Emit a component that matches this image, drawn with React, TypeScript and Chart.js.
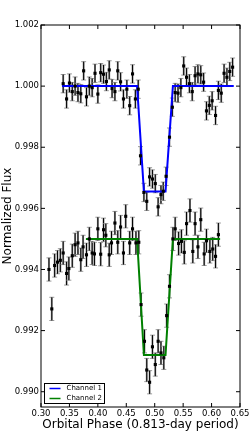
import React, { useEffect, useRef } from "react";
import { Chart, registerables } from "chart.js";

Chart.register(...registerables);

const FONT = "'DejaVu Sans', 'Liberation Sans', sans-serif";

const seriesNames = ["Channel 1", "Channel 2"];
const seriesColors = ["#0000ff", "#008000"];

const xTicks = [0.3, 0.35, 0.4, 0.45, 0.5, 0.55, 0.6, 0.65];
const yTicks = [0.99, 0.992, 0.994, 0.996, 0.998, 1.0, 1.002];

const phase1 = [
  0.339, 0.345, 0.350, 0.355, 0.360, 0.365, 0.370, 0.375, 0.380, 0.385, 0.390,
  0.395, 0.400, 0.405, 0.410, 0.415, 0.420, 0.425, 0.430, 0.435, 0.440, 0.445,
  0.451, 0.456, 0.461, 0.466, 0.471, 0.475, 0.481, 0.486, 0.491, 0.496, 0.501,
  0.506, 0.511, 0.515, 0.520, 0.526, 0.531, 0.536, 0.541, 0.546,
  0.551, 0.556, 0.561, 0.566, 0.571, 0.576, 0.581, 0.586, 0.591, 0.596, 0.601,
  0.607, 0.612, 0.617, 0.622, 0.627, 0.632, 0.637,
];
const flux1 = [
  1.00008, 0.99958, 1.0001, 0.99982, 1.0, 0.99979, 0.99975, 1.0005, 0.99965, 1.0, 0.99995,
  1.00042, 0.99974, 1.00044, 1.00039, 1.00015, 1.00053, 0.99992, 0.99982, 1.0005, 1.00014, 0.99958,
  0.9999, 0.99936, 1.0004, 0.99958, 0.9999, 0.99772, 0.99652, 0.99623, 0.99703, 0.99696, 0.99681,
  0.99605, 0.99645, 0.99656, 0.99705, 0.99833, 0.99931, 0.99979, 0.99977, 0.99995,
  1.00066, 1.00029, 1.00008, 0.99982, 1.00034, 1.0004, 1.00037, 1.00013, 0.99919, 0.99937, 0.99952,
  0.99904, 0.99986, 0.99977, 1.00042, 1.00029, 1.00048, 1.00062,
];

const phase2 = [
  0.314, 0.319, 0.324, 0.329, 0.334, 0.339, 0.345, 0.349, 0.355, 0.360, 0.365,
  0.370, 0.374, 0.380, 0.385, 0.390, 0.394, 0.400, 0.405, 0.410, 0.414, 0.420,
  0.424, 0.430, 0.435, 0.440, 0.445, 0.449,
  0.456, 0.461, 0.467, 0.472, 0.476, 0.482, 0.486, 0.491, 0.496, 0.501, 0.506,
  0.511, 0.516, 0.521, 0.526, 0.532, 0.536, 0.542,
  0.547, 0.552, 0.556, 0.562, 0.567, 0.571, 0.576, 0.581, 0.587, 0.591, 0.597,
  0.602, 0.607, 0.612,
];
const flux2 = [
  0.994, 0.99271, 0.99413, 0.99424, 0.9943, 0.99454, 0.99387, 0.99403, 0.99445, 0.99481, 0.99487,
  0.99432, 0.99474, 0.99448, 0.995, 0.99454, 0.99451, 0.99533, 0.9945, 0.9953, 0.99512, 0.99448,
  0.99487, 0.99552, 0.99489, 0.99539, 0.99454, 0.99574,
  0.99487, 0.99533, 0.99487, 0.99489, 0.99285, 0.99165, 0.99071, 0.99031, 0.99147, 0.99089, 0.99165,
  0.99127, 0.99111, 0.99249, 0.99345, 0.995, 0.99533, 0.99485,
  0.99492, 0.99456, 0.9955, 0.99593, 0.99459, 0.9955, 0.99474, 0.99563, 0.99451, 0.99494, 0.99459,
  0.99467, 0.99443, 0.99514,
];

const err1 = 0.0003;
const err2 = 0.00038;

const model1Phase = [0.337, 0.469, 0.481, 0.519, 0.532, 0.639];
const model1Flux = [1.0, 1.0, 0.99655, 0.99655, 1.0, 1.0];
const model2Phase = [0.379, 0.469, 0.481, 0.519, 0.532, 0.615];
const model2Flux = [0.995, 0.995, 0.9912, 0.9912, 0.995, 0.995];

const toXY = (xs: number[], ys: number[]) => xs.map((x, i) => ({ x, y: ys[i] }));

const errorBarPlugin = {
  id: "errorBars",
  beforeDatasetsDraw(chart: any) {
    const { ctx, scales } = chart;
    const xs = scales.x;
    const ys = scales.y;
    const draw = (ph: number[], fl: number[], e: number) => {
      for (let i = 0; i < ph.length; i++) {
        const px = xs.getPixelForValue(ph[i]);
        const top = ys.getPixelForValue(fl[i] + e);
        const bot = ys.getPixelForValue(fl[i] - e);
        ctx.strokeStyle = "#9a9a9a";
        ctx.lineWidth = 2;
        ctx.beginPath();
        ctx.moveTo(px, top);
        ctx.lineTo(px, bot);
        ctx.stroke();
        ctx.lineWidth = 1;
        ctx.beginPath();
        ctx.moveTo(px - 2.5, top);
        ctx.lineTo(px + 2.5, top);
        ctx.moveTo(px - 2.5, bot);
        ctx.lineTo(px + 2.5, bot);
        ctx.stroke();
        ctx.strokeStyle = "#000";
        ctx.lineWidth = 1;
        ctx.beginPath();
        ctx.moveTo(px, top);
        ctx.lineTo(px, bot);
        ctx.stroke();
      }
    };
    ctx.save();
    draw(phase1, flux1, err1);
    draw(phase2, flux2, err2);
    ctx.restore();
  },
};

const framePlugin = {
  id: "frame",
  afterDraw(chart: any) {
    const { ctx, chartArea: a, scales } = chart;
    ctx.save();
    ctx.strokeStyle = "#000";
    ctx.lineWidth = 1;
    ctx.strokeRect(a.left, a.top, a.right - a.left, a.bottom - a.top);
    const tl = 4;
    ctx.beginPath();
    xTicks.forEach((v) => {
      const px = scales.x.getPixelForValue(v);
      ctx.moveTo(px, a.bottom);
      ctx.lineTo(px, a.bottom - tl);
      ctx.moveTo(px, a.top);
      ctx.lineTo(px, a.top + tl);
    });
    yTicks.forEach((v) => {
      const py = scales.y.getPixelForValue(v);
      ctx.moveTo(a.left, py);
      ctx.lineTo(a.left + tl, py);
      ctx.moveTo(a.right, py);
      ctx.lineTo(a.right - tl, py);
    });
    ctx.stroke();

    // legend (lower left, inside the axes)
    const bx = a.left + 3.5;
    const by = a.bottom - 23.5;
    const bw = 60;
    const bh = 20;
    ctx.fillStyle = "#fff";
    ctx.fillRect(bx, by, bw, bh);
    ctx.strokeStyle = "#000";
    ctx.lineWidth = 1;
    ctx.strokeRect(bx, by, bw, bh);
    ctx.font = `7px ${FONT}`;
    ctx.textBaseline = "middle";
    ctx.textAlign = "left";
    seriesNames.forEach((name, i) => {
      const cy = by + 5 + i * 10;
      ctx.strokeStyle = seriesColors[i];
      ctx.lineWidth = 1.5;
      ctx.beginPath();
      ctx.moveTo(bx + 5, cy);
      ctx.lineTo(bx + 16, cy);
      ctx.stroke();
      ctx.fillStyle = "#000";
      ctx.fillText(name, bx + 22, cy);
    });
    ctx.restore();
  },
};

export default function App() {
  const canvasRef = useRef<HTMLCanvasElement | null>(null);

  useEffect(() => {
    const canvas = canvasRef.current;
    if (!canvas) return;
    const chart = new Chart(canvas, {
      type: "scatter",
      data: {
        datasets: [
          {
            label: seriesNames[0] + " data",
            data: toXY(phase1, flux1),
            pointStyle: "rect",
            pointRadius: 2.2,
            backgroundColor: "#000",
            borderColor: "#000",
            borderWidth: 0,
            showLine: false,
            order: 0,
          },
          {
            label: seriesNames[1] + " data",
            data: toXY(phase2, flux2),
            pointStyle: "rect",
            pointRadius: 2.2,
            backgroundColor: "#000",
            borderColor: "#000",
            borderWidth: 0,
            showLine: false,
            order: 0,
          },
          {
            label: seriesNames[0],
            data: toXY(model1Phase, model1Flux),
            showLine: true,
            borderColor: seriesColors[0],
            borderWidth: 2,
            pointRadius: 0,
            tension: 0,
            order: 1,
          },
          {
            label: seriesNames[1],
            data: toXY(model2Phase, model2Flux),
            showLine: true,
            borderColor: seriesColors[1],
            borderWidth: 2,
            pointRadius: 0,
            tension: 0,
            order: 1,
          },
        ],
      },
      options: {
        responsive: false,
        animation: false,
        devicePixelRatio: 1,
        layout: { padding: { left: 0, right: 9, top: 25, bottom: 0 } },
        plugins: {
          legend: { display: false },
          tooltip: { enabled: false },
        },
        scales: {
          x: {
            type: "linear",
            min: 0.3,
            max: 0.65,
            grid: { display: false, drawTicks: false },
            border: { display: false },
            afterBuildTicks: (s: any) => {
              s.ticks = xTicks.map((v) => ({ value: v }));
            },
            afterFit: (s: any) => {
              s.height = 27;
              s.paddingLeft = 0;
              s.paddingRight = 0;
            },
            ticks: {
              color: "#000",
              font: { family: FONT, size: 8.5 },
              padding: 2,
              maxRotation: 0,
              autoSkip: false,
              callback: (v: any) => Number(v).toFixed(2),
            },
            title: {
              display: true,
              text: "Orbital Phase (0.813-day period)",
              color: "#000",
              font: { family: FONT, size: 12 },
              padding: { top: 0, bottom: 2 },
            },
          },
          y: {
            type: "linear",
            min: 0.9895,
            max: 1.002,
            grid: { display: false, drawTicks: false },
            border: { display: false },
            afterBuildTicks: (s: any) => {
              s.ticks = yTicks.map((v) => ({ value: v }));
            },
            afterFit: (s: any) => {
              s.width = 41;
              s.paddingTop = 0;
              s.paddingBottom = 0;
            },
            ticks: {
              color: "#000",
              font: { family: FONT, size: 8.5 },
              padding: 2,
              autoSkip: false,
              callback: (v: any) => Number(v).toFixed(3),
            },
            title: {
              display: true,
              text: "Normalized Flux",
              color: "#000",
              font: { family: FONT, size: 12 },
              padding: { top: 1, bottom: 0 },
            },
          },
        },
      },
      plugins: [errorBarPlugin, framePlugin],
    } as any);
    return () => chart.destroy();
  }, []);

  return (
    <div style={{ position: "fixed", left: 0, top: 0, width: 249, height: 434, background: "#fff" }}>
      <canvas ref={canvasRef} width={249} height={434} style={{ display: "block", width: 249, height: 434 }} />
    </div>
  );
}
